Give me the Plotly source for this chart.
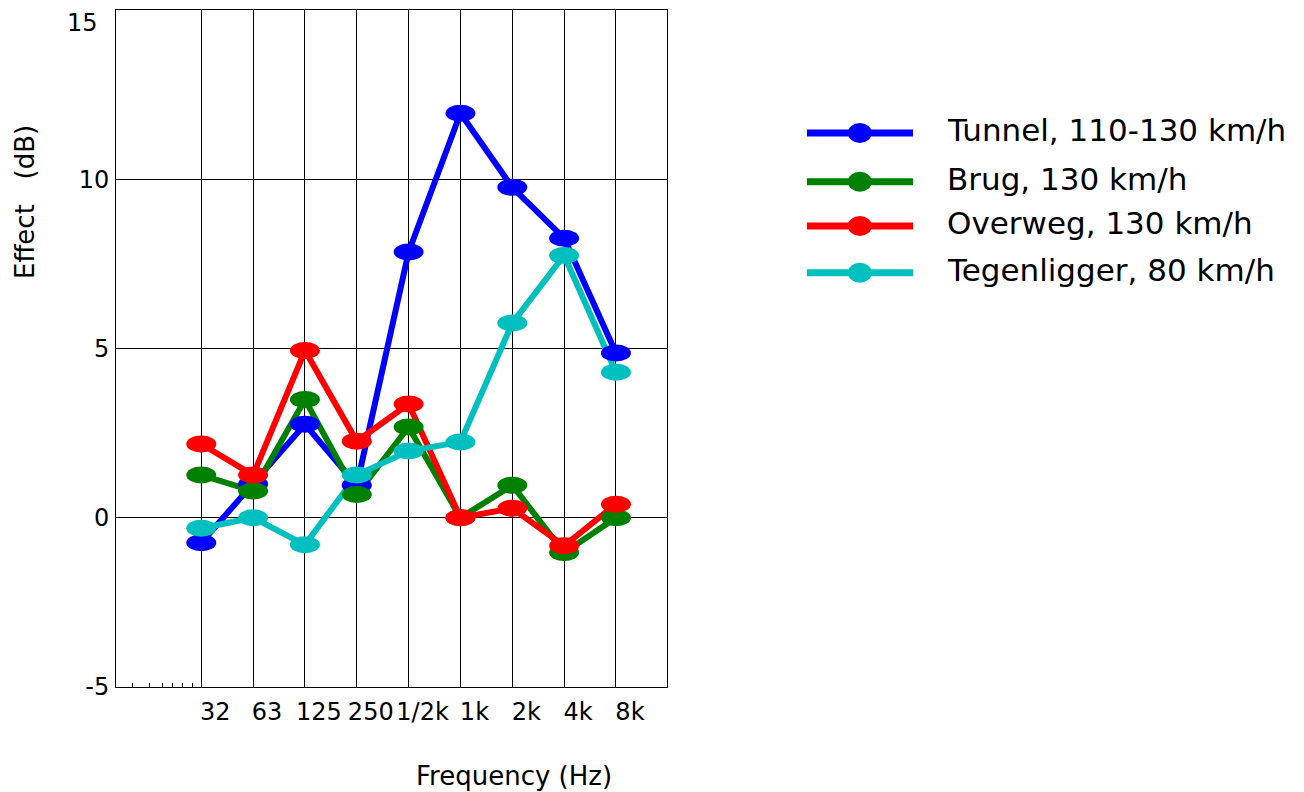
import plotly.graph_objects as go

# ---------------- data ----------------
categories = ["32", "63", "125", "250", "1/2k", "1k", "2k", "4k", "8k"]
tunnel = [-0.74, 1.0, 2.76, 0.96, 7.85, 11.95, 9.76, 8.26, 4.87]
brug = [1.26, 0.79, 3.49, 0.69, 2.68, 0.0, 0.96, -1.03, 0.0]
overweg = [2.18, 1.26, 4.94, 2.26, 3.36, 0.0, 0.28, -0.83, 0.40]
tegenligger = [-0.31, 0.0, -0.80, 1.26, 1.97, 2.24, 5.75, 7.75, 4.30]

series_names = ["Tunnel, 110-130 km/h", "Brug, 130 km/h", "Overweg, 130 km/h", "Tegenligger, 80 km/h"]
series_values = [tunnel, brug, overweg, tegenligger]
series_colors = ["#0000FF", "#008000", "#FF0000", "#00BFBF"]

y_ticks = [-5, 0, 5, 10, 15]
y_tick_text = ["-5", "0", "5", "10", "15"]
minor_ticks = [-0.32, 0.0, 0.26, 0.45, 0.645, 0.84]

# ---------------- layout geometry (pixels) ----------------
W, H = 1304, 792
ML, MR, MT, MB = 116, 10, 10, 105
PW, PH = W - ML - MR, H - MT - MB
PLOT_RIGHT = 666.7
LEG_X0, LEG_X1 = 806.7, 913.0
LEG_TOP, LEG_BOT = 100, 300
legend_rows = [133, 181.7, 226, 272.7]

def px_x(p):
    return (p - ML) / PW

def px_y(p):
    return (H - MB - p) / PH

xs = list(range(1, len(categories) + 1))

fig = go.Figure()
shapes = []

for name, vals, col in zip(series_names, series_values, series_colors):
    fig.add_trace(go.Scatter(
        x=xs, y=vals, mode="lines", name=name,
        line=dict(color=col, width=6), showlegend=False,
        xaxis="x", yaxis="y"))
    for xv, yv in zip(xs, vals):
        shapes.append(dict(type="circle", xref="x", yref="y",
                           xsizemode="pixel", ysizemode="pixel",
                           xanchor=xv, yanchor=yv,
                           x0=-15, x1=15, y0=-8.5, y1=8.5,
                           fillcolor=col, line=dict(width=0), layer="above"))

# legend drawn as a small subplot
annotations = []
for name, col, row in zip(series_names, series_colors, legend_rows):
    fig.add_trace(go.Scatter(
        x=[0, 1], y=[row, row], mode="lines",
        line=dict(color=col, width=7), showlegend=False,
        xaxis="x2", yaxis="y2", hoverinfo="skip"))
    shapes.append(dict(type="circle", xref="x2", yref="y2",
                       xsizemode="pixel", ysizemode="pixel",
                       xanchor=0.5, yanchor=row,
                       x0=-12, x1=12, y0=-10, y1=10,
                       fillcolor=col, line=dict(width=0), layer="above"))
    annotations.append(dict(xref="x2", yref="y2", x=1, y=row, text=name,
                            xanchor="left", yanchor="middle", xshift=32, yshift=3,
                            showarrow=False,
                            font=dict(family="DejaVu Sans", size=31, color="black")))

annotations.append(dict(xref="paper", yref="paper", x=px_x(514), y=px_y(776),
                        text="Frequency (Hz)", showarrow=False,
                        xanchor="center", yanchor="middle",
                        font=dict(family="DejaVu Sans", size=26, color="black")))
annotations.append(dict(xref="paper", yref="paper", x=px_x(25), y=px_y(202),
                        text="Effect\u00a0\u00a0\u00a0(dB)", showarrow=False, textangle=-90,
                        xanchor="center", yanchor="middle",
                        font=dict(family="DejaVu Sans", size=26, color="black")))
# top y tick label sits just below the top edge, as in the original
annotations.append(dict(xref="paper", yref="y", x=px_x(100), y=y_ticks[-1],
                        text=y_tick_text[-1], showarrow=False,
                        xanchor="right", yanchor="top", yshift=3,
                        font=dict(family="DejaVu Sans", size=24, color="black")))

span = len(categories) - 1
unit = (616.0 - 201.7) / span
x_lo = 1 - (201.7 - 116.5) / unit
x_hi = len(categories) + (PLOT_RIGHT - 616.0) / unit

fig.update_layout(
    width=W, height=H,
    margin=dict(l=ML, r=MR, t=MT, b=MB, autoexpand=False),
    paper_bgcolor="white", plot_bgcolor="white",
    font=dict(family="DejaVu Sans", size=24, color="black"),
    xaxis=dict(domain=[0, px_x(PLOT_RIGHT)], range=[x_lo, x_hi],
               tickmode="array", tickvals=xs, ticktext=categories,
               showgrid=True, gridcolor="black", gridwidth=1,
               showline=True, linecolor="black", linewidth=1, mirror=True,
               ticks="", zeroline=False, ticklabelshift=14, ticklabelstandoff=3,
               automargin=False, ticklabeloverflow="allow",
               minor=dict(tickmode="array", tickvals=minor_ticks, ticks="inside",
                          ticklen=4, tickcolor="black", showgrid=False)),
    yaxis=dict(domain=[0, 1], range=[-5, 15], tickmode="array", tickvals=y_ticks[:-1],
               ticktext=y_tick_text[:-1],
               showgrid=True, gridcolor="black", gridwidth=1,
               showline=True, linecolor="black", linewidth=1, mirror=True,
               ticks="", zeroline=False, ticklabelstandoff=1, automargin=False,
               ticklabeloverflow="allow"),
    xaxis2=dict(domain=[px_x(LEG_X0), px_x(LEG_X1)], range=[0, 1], visible=False,
                anchor="y2"),
    yaxis2=dict(domain=[px_y(LEG_BOT), px_y(LEG_TOP)], range=[LEG_BOT, LEG_TOP],
                visible=False, anchor="x2"),
    shapes=shapes,
    annotations=annotations,
    showlegend=False,
)

fig.write_html("out.html", config={"displayModeBar": False},
               post_script="document.body.style.margin='0';document.body.style.overflow='hidden';")
